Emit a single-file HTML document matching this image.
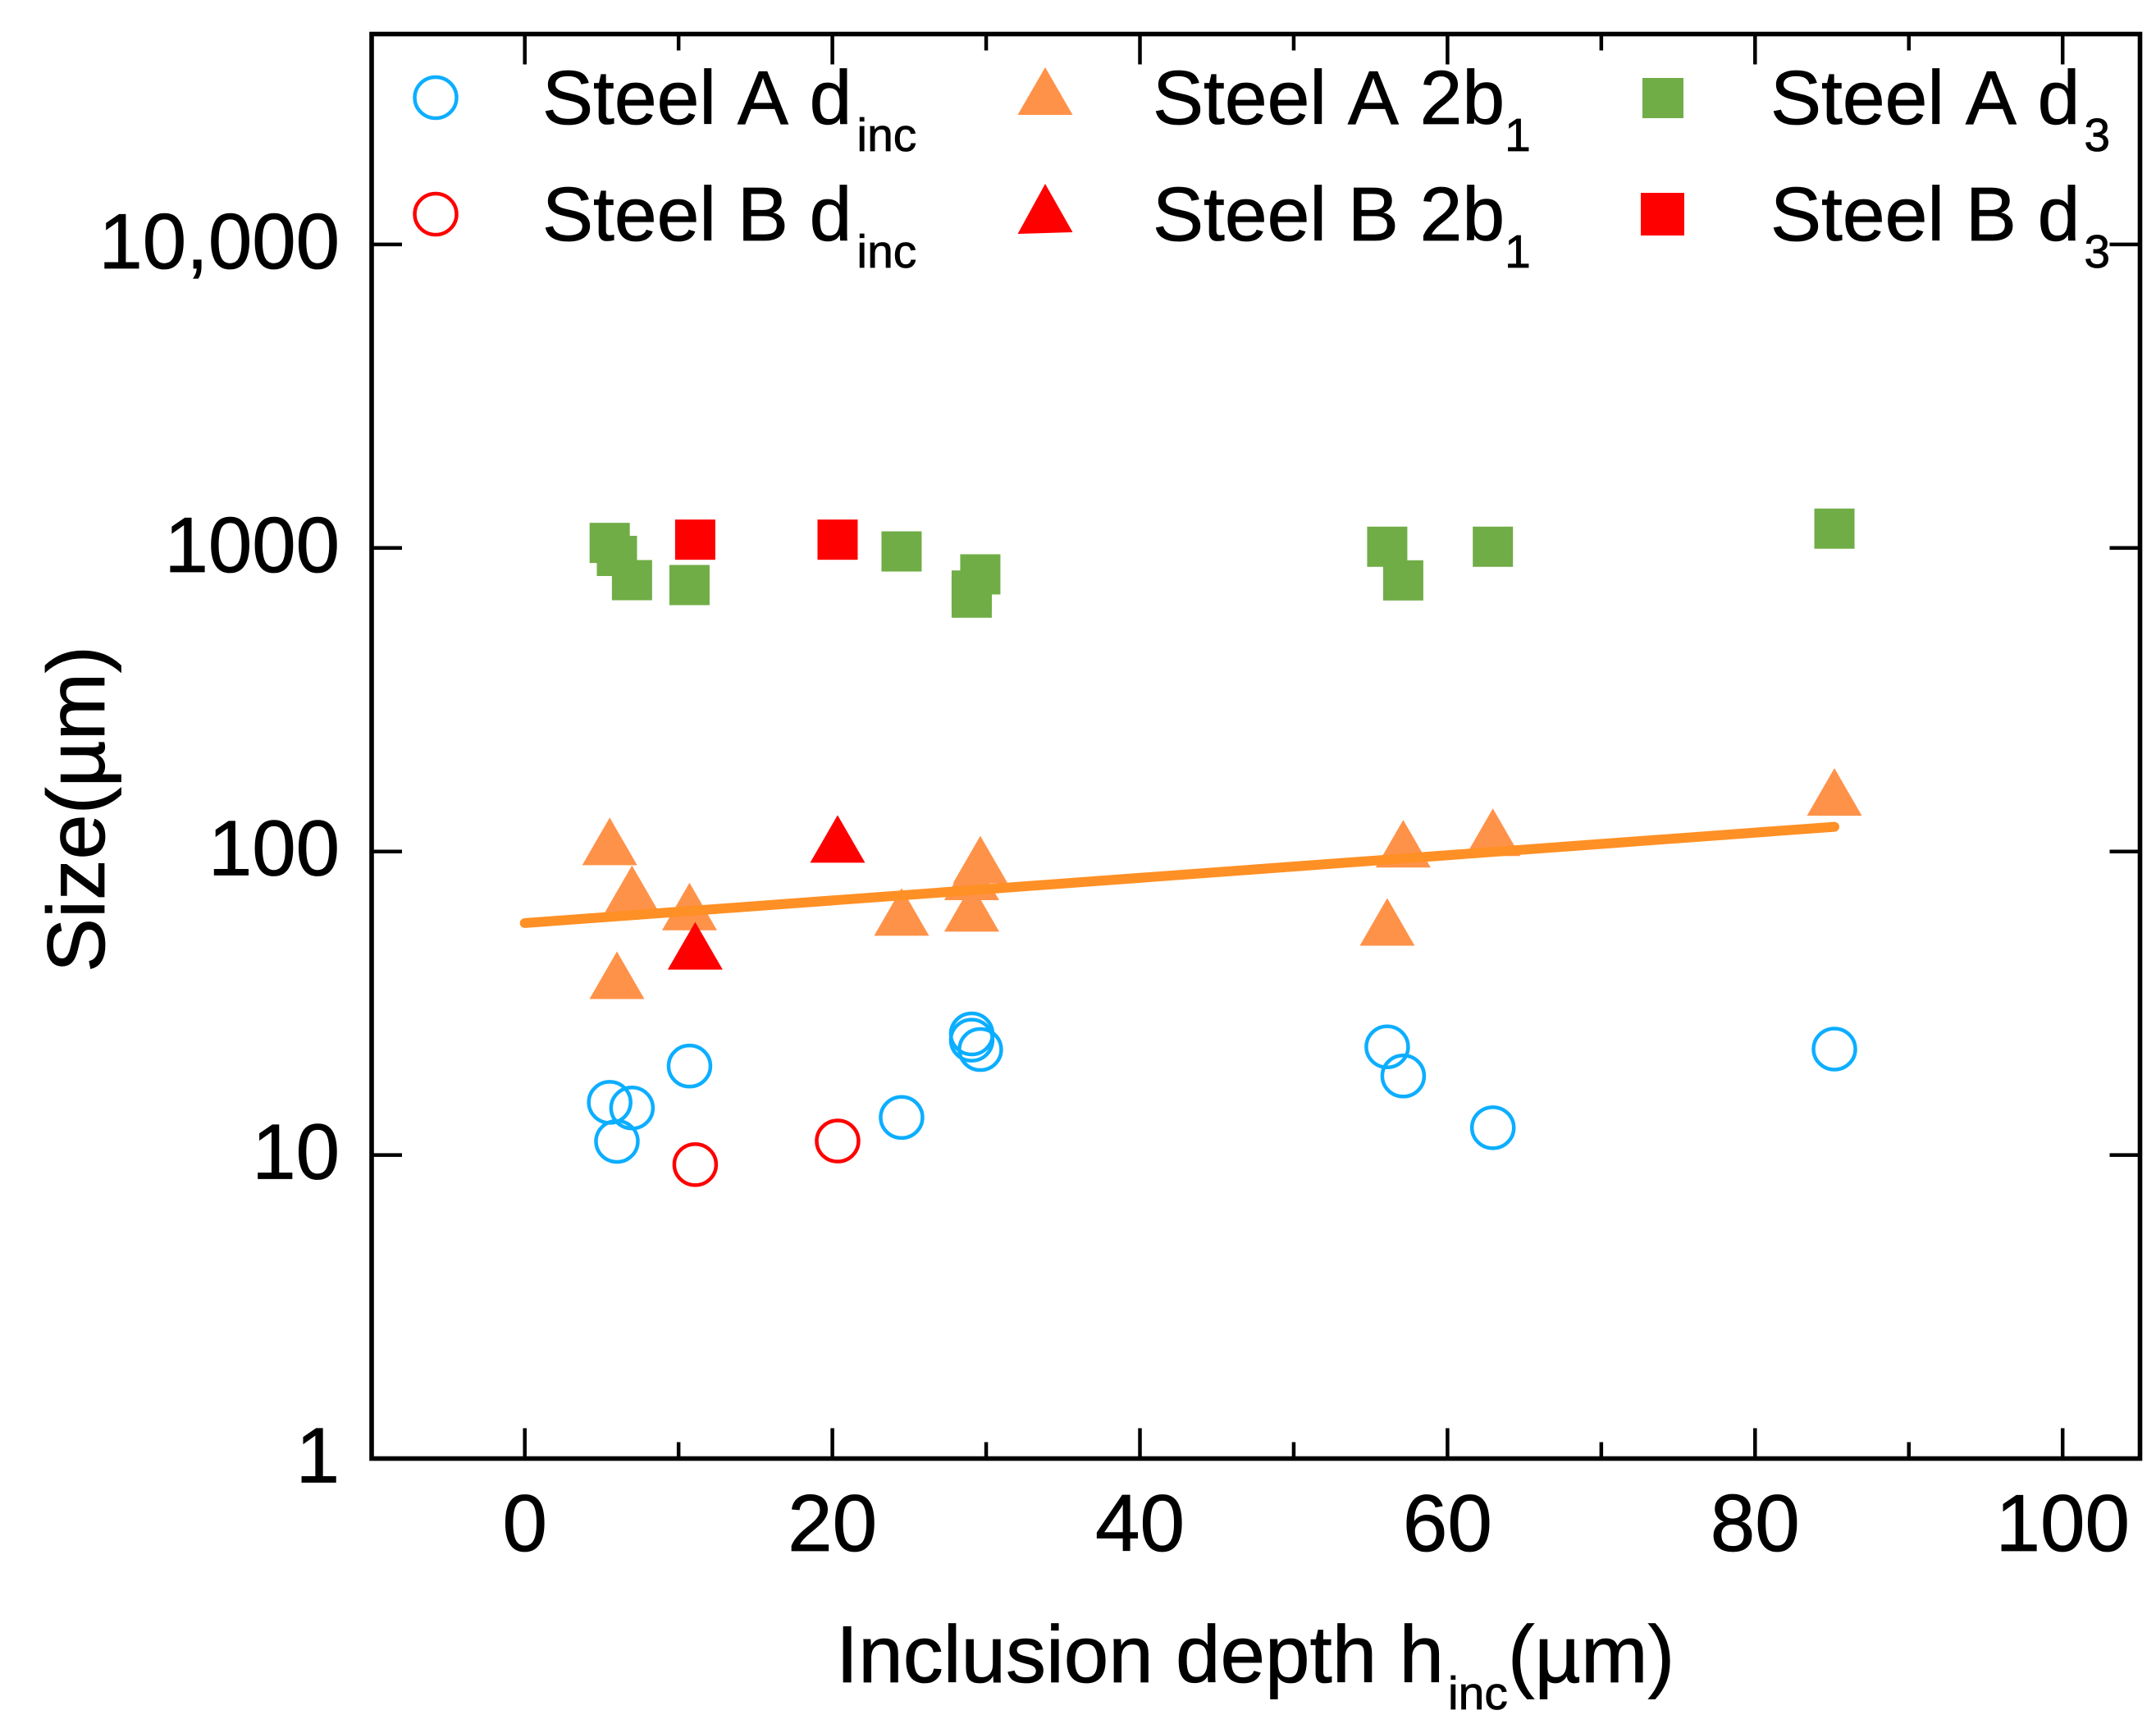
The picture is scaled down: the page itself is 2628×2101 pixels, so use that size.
<!DOCTYPE html>
<html lang="en">
<head>
<meta charset="utf-8">
<title>Size vs inclusion depth</title>
<style>
html,body{margin:0;padding:0;background:#fff;}
svg{display:block;}
text{font-family:"Liberation Sans",Arial,sans-serif;fill:#000;font-kerning:none;stroke:#000;stroke-width:0.8px;}
</style>
</head>
<body>
<svg id="chart" xmlns="http://www.w3.org/2000/svg" width="2628" height="2101" viewBox="0 0 2628 2101">
  <rect x="0" y="0" width="2628" height="2101" fill="#fff"/>
  <g id="ticks"></g>
  <g id="labels"></g>
  <g id="marks"></g>
  <rect x="453" y="41.5" width="2155.5" height="1736" fill="none" stroke="#000" stroke-width="5.6"/>

  <text transform="translate(127,986) rotate(-90)" text-anchor="middle" font-size="99">Size(µm)</text>
  <text x="1019" y="2050" font-size="98">Inclusion depth h<tspan font-size="57" dx="5" dy="33">inc</tspan><tspan dy="-33">(µm)</tspan></text>

  <g>
    <g>
      <ellipse cx="531" cy="119" rx="25.5" ry="25" fill="none" stroke="#0CAEFF" stroke-width="4.5"/>
      <text x="661" y="151" font-size="93">Steel A d<tspan font-size="57" dx="6" dy="33">inc</tspan></text>
    </g>
    <g>
      <ellipse cx="531" cy="261" rx="25.5" ry="25" fill="none" stroke="#FF0000" stroke-width="4.5"/>
      <text x="661" y="293" font-size="93">Steel B d<tspan font-size="57" dx="6" dy="33">inc</tspan></text>
    </g>
    <g>
      <polygon points="1274,82 1240.5,140 1307.5,140" fill="#FF9249"/>
      <text x="1405" y="151" font-size="93">Steel A 2b<tspan font-size="57" dy="33">1</tspan></text>
    </g>
    <g>
      <polygon points="1274,224 1240.5,285 1307.5,283" fill="#FF0000"/>
      <text x="1405" y="293" font-size="93">Steel B 2b<tspan font-size="57" dy="33">1</tspan></text>
    </g>
    <g>
      <rect x="2002" y="95" width="50" height="49" fill="#70AD47"/>
      <text x="2158" y="151" font-size="93">Steel A d<tspan font-size="57" dx="5" dy="33">3</tspan></text>
    </g>
    <g>
      <rect x="2000" y="235" width="53" height="52" fill="#FF0000"/>
      <text x="2158" y="293" font-size="93">Steel B d<tspan font-size="57" dx="5" dy="33">3</tspan></text>
    </g>
  </g>
</svg>
<script>
// Chart data
const xMajorTicks = [0, 20, 40, 60, 80, 100];
const xMinorTicks = [10, 30, 50, 70, 90];
const yTickValues = [1, 10, 100, 1000, 10000];
const yTickLabels = ['1', '10', '100', '1000', '10,000'];

const steelADepth = [5.52, 5.99, 6.97, 10.71, 24.5, 29.06, 29.06, 29.62, 56.08, 57.12, 62.95, 85.16];
const steelADinc = [14.91, 11.09, 14.29, 19.64, 13.3, 25.06, 23.9, 22.26, 22.72, 18.21, 12.3, 22.34];
const steelA2b1 = [108, 39.1, 75.1, 65.9, 63.2, 65.2, 82.8, 94, 58.6, 106.1, 115.7, 157.1];
const steelAD3 = [1039, 941.5, 783.4, 754.8, 974, 724, 686, 818.6, 1009.5, 782, 1009.5, 1158];

const steelBDepth = [11.08, 20.34];
const steelBDinc = [9.3, 11.12];
const steelB2b1 = [48.9, 110];
const steelBD3 = [1065, 1065];

const fitDepth = [0, 85.16];
const fitSize = [58.1, 120.6];

// Axis functions
function xScale(v) { return 639.7 + v * 18.745; }
function yScale(v) { return 1777.5 - Math.log10(v) * 369.9; }

const NS = 'http://www.w3.org/2000/svg';
const ticksG = document.getElementById('ticks');
const labelsG = document.getElementById('labels');
const marksG = document.getElementById('marks');

function makeLine(parent, x1, y1, x2, y2, width, color) {
  const l = document.createElementNS(NS, 'line');
  l.setAttribute('x1', x1);
  l.setAttribute('y1', y1);
  l.setAttribute('x2', x2);
  l.setAttribute('y2', y2);
  l.setAttribute('stroke', color);
  l.setAttribute('stroke-width', width);
  parent.appendChild(l);
  return l;
}

const PLOT_TOP = 41.5, PLOT_BOTTOM = 1777.5, PLOT_LEFT = 453, PLOT_RIGHT = 2608.5;

xMajorTicks.forEach(function (v) {
  const x = xScale(v);
  const b = makeLine(ticksG, x, PLOT_BOTTOM, x, PLOT_BOTTOM - 37, 4.5, '#000');
  
  
  const t = makeLine(ticksG, x, PLOT_TOP, x, PLOT_TOP + 37, 4.5, '#000');
  
  
  const lab = document.createElementNS(NS, 'text');
  
  
  lab.setAttribute('x', x);
  lab.setAttribute('y', 1890);
  lab.setAttribute('text-anchor', 'middle');
  lab.setAttribute('font-size', '98');
  lab.textContent = String(v);
  labelsG.appendChild(lab);
});

xMinorTicks.forEach(function (v) {
  const x = xScale(v);
  const b = makeLine(ticksG, x, PLOT_BOTTOM, x, PLOT_BOTTOM - 20, 4.5, '#000');
  
  
  const t = makeLine(ticksG, x, PLOT_TOP, x, PLOT_TOP + 20, 4.5, '#000');
  
  
});

yTickValues.forEach(function (v, i) {
  const y = yScale(v);
  const l = makeLine(ticksG, PLOT_LEFT, y, PLOT_LEFT + 37, y, 4.5, '#000');
  
  
  const r = makeLine(ticksG, PLOT_RIGHT, y, PLOT_RIGHT - 37, y, 4.5, '#000');
  
  
  const lab = document.createElementNS(NS, 'text');
  
  
  lab.setAttribute('x', 414);
  lab.setAttribute('y', y + 29);
  lab.setAttribute('text-anchor', 'end');
  lab.setAttribute('font-size', '96');
  lab.textContent = yTickLabels[i];
  labelsG.appendChild(lab);
});

function drawCircles(xs, ys, color, name) {
  xs.forEach(function (xv, i) {
    const c = document.createElementNS(NS, 'ellipse');
    
    
    c.setAttribute('cx', xScale(xv));
    c.setAttribute('cy', yScale(ys[i]));
    c.setAttribute('rx', 25.5);
    c.setAttribute('ry', 25);
    c.setAttribute('fill', 'none');
    c.setAttribute('stroke', color);
    c.setAttribute('stroke-width', 4.5);
    marksG.appendChild(c);
  });
}

function drawTriangles(xs, ys, color, name) {
  xs.forEach(function (xv, i) {
    const px = xScale(xv), py = yScale(ys[i]);
    const t = document.createElementNS(NS, 'polygon');
    
    
    t.setAttribute('points', px + ',' + (py - 29) + ' ' + (px - 33.5) + ',' + (py + 29) + ' ' + (px + 33.5) + ',' + (py + 29));
    t.setAttribute('fill', color);
    marksG.appendChild(t);
  });
}

function drawSquares(xs, ys, color, name) {
  xs.forEach(function (xv, i) {
    const px = xScale(xv), py = yScale(ys[i]);
    const r = document.createElementNS(NS, 'rect');
    
    
    r.setAttribute('x', px - 24.5);
    r.setAttribute('y', py - 24.5);
    r.setAttribute('width', 49);
    r.setAttribute('height', 49);
    r.setAttribute('fill', color);
    marksG.appendChild(r);
  });
}

drawCircles(steelADepth, steelADinc, '#0CAEFF', 'steel-a-dinc-point');
drawCircles(steelBDepth, steelBDinc, '#FF0000', 'steel-b-dinc-point');
drawTriangles(steelADepth, steelA2b1, '#FF9249', 'steel-a-2b1-point');
drawSquares(steelADepth, steelAD3, '#70AD47', 'steel-a-d3-point');
drawSquares(steelBDepth, steelBD3, '#FF0000', 'steel-b-d3-point');

const fitPoints = fitDepth.map(function (d, i) { return xScale(d) + ',' + yScale(fitSize[i]); }).join(' ');
const fitLine = document.createElementNS(NS, 'polyline');


fitLine.setAttribute('points', fitPoints);
fitLine.setAttribute('fill', 'none');
fitLine.setAttribute('stroke', '#FF9025');
fitLine.setAttribute('stroke-width', 12);
fitLine.setAttribute('stroke-linecap', 'round');
marksG.appendChild(fitLine);

drawTriangles(steelBDepth, steelB2b1, '#FF0000', 'steel-b-2b1-point');
</script>
</body>
</html>
